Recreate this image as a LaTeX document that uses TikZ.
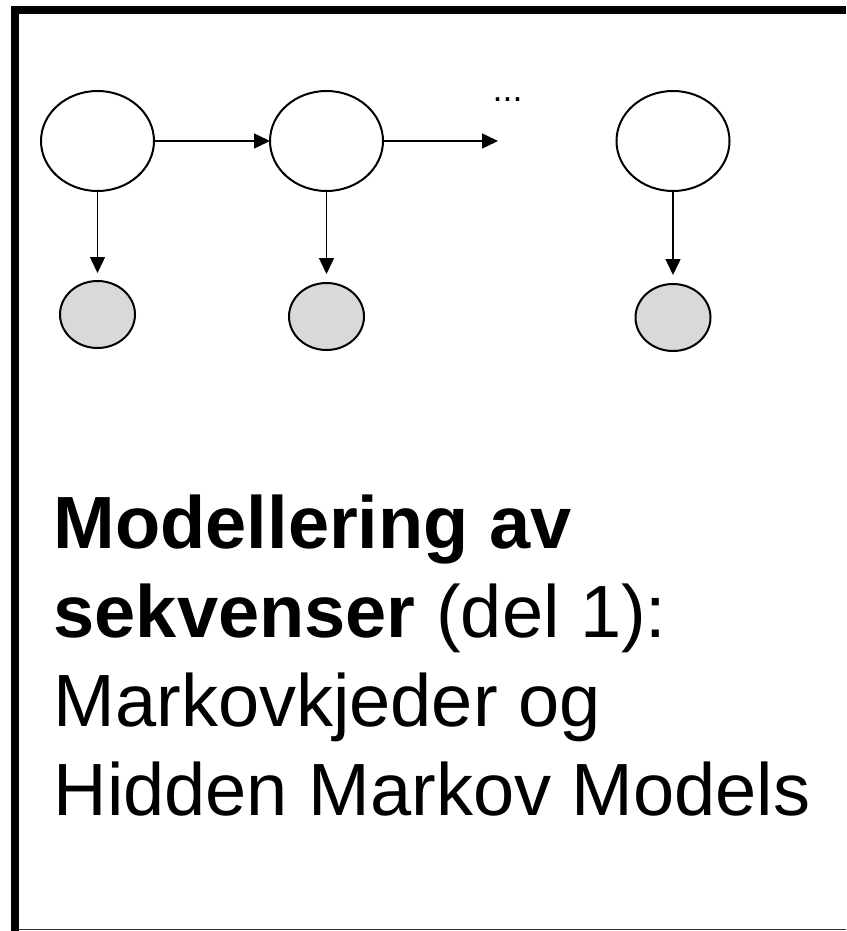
\documentclass[tikz,border=0pt]{standalone}
\usepackage{fontspec}
\setmainfont{Liberation Sans}
\usetikzlibrary{arrows.meta,shapes.geometric}
\definecolor{obsgray}{RGB}{217,217,217}
\begin{document}
\begin{tikzpicture}[x=1pt,y=-1pt,
  hidden/.style={ellipse,draw,line width=2pt,minimum width=113pt,minimum height=100pt,inner sep=0pt,outer sep=0pt,fill=white},
  obs/.style={ellipse,draw,line width=2pt,minimum width=75pt,minimum height=67pt,inner sep=0pt,outer sep=0pt,fill=obsgray},
  conn/.style={line width=1.5pt,-{Triangle[length=16pt,width=15pt]}},
  txt/.style={anchor=base west,inner sep=0pt,font=\fontsize{74}{89}\selectfont}]
\useasboundingbox (0,0) rectangle (846,931);
% frame
\draw[line width=1.5pt,black!80] (14,929.3) -- (846,929.3);
\draw[line width=8pt,line join=miter] (14.5,931) -- (14.5,10.5) -- (846,10.5);
% nodes
\node[hidden] (h1) at (97.5,141) {};
\node[hidden] (h2) at (326.5,141) {};
\node[hidden] (h3) at (673,141) {};
\node[obs] (o1) at (97.5,314.5) {};
\node[obs] (o2) at (326.5,316.5) {};
\node[obs] (o3) at (673,317.5) {};
\coordinate (cont) at (498,141);
\node[anchor=base,inner sep=0pt,font=\fontsize{36}{40}\selectfont] (dots) at (507.5,102) {...};
% connectors
\draw[conn] (h1.east) -- (h2.west);
\draw[conn] (h2.east) -- (cont);
\draw[conn,shorten >=8pt] (h1.south) -- (o1.north);
\draw[conn,shorten >=9pt] (h2.south) -- (o2.north);
\draw[conn,shorten >=9pt] (h3.south) -- (o3.north);
% text
\node[txt] (t1) at (53.5,548) {\textbf{Modellering av}};
\node[txt] (t2) at (53.5,637) {\textbf{sekvenser} (del 1):};
\node[txt] (t3) at (53.5,726) {Markovkjeder og};
\node[txt] (t4) at (53.5,815) {Hidden Markov Models};
\end{tikzpicture}
\end{document}
